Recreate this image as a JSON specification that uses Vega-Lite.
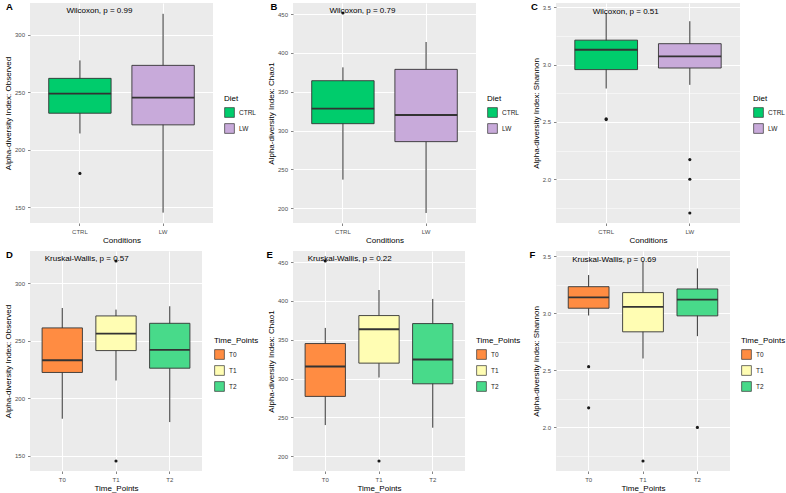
{
  "$schema": "https://vega.github.io/schema/vega-lite/v6.json",
  "padding": {"left": 4, "top": 1, "right": 0, "bottom": 0},
  "background": "#FFFFFF",
  "bounds": "flush",
  "columns": 3,
  "spacing": {"row": 28, "column": 80},
  "resolve": {"scale": {"fill": "independent", "x": "independent", "y": "independent"}, "legend": {"fill": "independent"}},
  "datasets": {
    "boxes": [
      {"panel": "A", "grp": "CTRL", "lower": 214.2, "q1": 231.8, "median": 248.8, "q3": 262.1, "upper": 277.7},
      {"panel": "A", "grp": "LW", "lower": 145.4, "q1": 221.7, "median": 245.4, "q3": 273.4, "upper": 318.2},
      {"panel": "B", "grp": "CTRL", "lower": 236.9, "q1": 308.9, "median": 328.2, "q3": 364.2, "upper": 381.4},
      {"panel": "B", "grp": "LW", "lower": 194.0, "q1": 285.8, "median": 320.1, "q3": 378.8, "upper": 414.0},
      {"panel": "C", "grp": "CTRL", "lower": 2.791, "q1": 2.956, "median": 3.129, "q3": 3.213, "upper": 3.45},
      {"panel": "C", "grp": "LW", "lower": 2.823, "q1": 2.970, "median": 3.072, "q3": 3.182, "upper": 3.378},
      {"panel": "D", "grp": "T0", "lower": 182.1, "q1": 222.3, "median": 232.9, "q3": 261.0, "upper": 278.3},
      {"panel": "D", "grp": "T1", "lower": 215.3, "q1": 241.3, "median": 256.1, "q3": 271.4, "upper": 276.9},
      {"panel": "D", "grp": "T2", "lower": 179.2, "q1": 226.0, "median": 241.9, "q3": 265.0, "upper": 279.8},
      {"panel": "E", "grp": "T0", "lower": 240.2, "q1": 277.1, "median": 315.6, "q3": 345.1, "upper": 365.2},
      {"panel": "E", "grp": "T1", "lower": 301.4, "q1": 319.9, "median": 363.5, "q3": 381.1, "upper": 414.0},
      {"panel": "E", "grp": "T2", "lower": 236.8, "q1": 293.3, "median": 324.6, "q3": 370.8, "upper": 402.5},
      {"panel": "F", "grp": "T0", "lower": 2.982, "q1": 3.046, "median": 3.142, "q3": 3.235, "upper": 3.337},
      {"panel": "F", "grp": "T1", "lower": 2.605, "q1": 2.839, "median": 3.057, "q3": 3.183, "upper": 3.46},
      {"panel": "F", "grp": "T2", "lower": 2.801, "q1": 2.979, "median": 3.121, "q3": 3.215, "upper": 3.395}
    ],
    "outliers": [
      {"panel": "A", "grp": "CTRL", "value": 179.5},
      {"panel": "B", "grp": "CTRL", "value": 451.3},
      {"panel": "C", "grp": "CTRL", "value": 2.52},
      {"panel": "C", "grp": "CTRL", "value": 2.527},
      {"panel": "C", "grp": "LW", "value": 2.171},
      {"panel": "C", "grp": "LW", "value": 2.0},
      {"panel": "C", "grp": "LW", "value": 1.705},
      {"panel": "D", "grp": "T1", "value": 319.1},
      {"panel": "D", "grp": "T1", "value": 145.4},
      {"panel": "E", "grp": "T0", "value": 451.3},
      {"panel": "E", "grp": "T1", "value": 194.0},
      {"panel": "F", "grp": "T0", "value": 2.533},
      {"panel": "F", "grp": "T0", "value": 2.172},
      {"panel": "F", "grp": "T1", "value": 1.706},
      {"panel": "F", "grp": "T2", "value": 2.0}
    ],
    "labels": [
      {"panel": "A", "grp": "CTRL", "value": 320.9, "label": "Wilcoxon, p = 0.99"},
      {"panel": "B", "grp": "CTRL", "value": 453.4, "label": "Wilcoxon, p = 0.79"},
      {"panel": "C", "grp": "CTRL", "value": 3.462, "label": "Wilcoxon, p = 0.51"},
      {"panel": "D", "grp": "T0", "value": 320.5, "label": "Kruskal-Wallis, p = 0.57"},
      {"panel": "E", "grp": "T0", "value": 453.4, "label": "Kruskal-Wallis, p = 0.22"},
      {"panel": "F", "grp": "T0", "value": 3.471, "label": "Kruskal-Wallis, p = 0.69"}
    ]
  },
  "concat": [
    {
      "width": 183, "height": 220,
      "title": {"text": "A", "dx": -24},
      "encoding": {"x": {"field": "grp", "type": "nominal", "scale": {"type": "band", "domain": ["CTRL", "LW"], "paddingInner": 0.25, "paddingOuter": 0.225}, "axis": {"title": "Conditions", "labelAngle": 0, "bandPosition": 0.5, "grid": true, "gridWidth": 1}}},
      "layer": [
        {"data": {"name": "boxes"}, "transform": [{"filter": "datum.panel === 'A'"}], "mark": {"type": "rule", "color": "#333333", "strokeWidth": 1},
         "encoding": {"y": {"field": "lower", "type": "quantitative", "scale": {"domain": [136.4, 327.6], "nice": false, "zero": false},
           "axis": {"title": "Alpha-diversity Index: Observed", "labelOverlap": false, "values": [150, 175, 200, 225, 250, 275, 300, 325], "labelExpr": "datum.value % 50 === 0 ? datum.label : ''", "gridWidth": {"condition": {"test": "datum.value % 50 === 0", "value": 1}, "value": 0.5}, "tickOpacity": {"condition": {"test": "datum.value % 50 === 0", "value": 1}, "value": 0}}},
           "y2": {"field": "upper"}}},
        {"data": {"name": "boxes"}, "transform": [{"filter": "datum.panel === 'A'"}], "mark": {"type": "bar", "stroke": "#333333", "strokeWidth": 0.9},
         "encoding": {"y": {"field": "q1", "type": "quantitative"}, "y2": {"field": "q3"},
           "fill": {"field": "grp", "type": "nominal", "scale": {"domain": ["CTRL", "LW"], "range": ["#00CC6C", "#C8AADA"]}, "legend": {"title": "Diet", "legendX": 194, "legendY": 92}}}},
        {"data": {"name": "boxes"}, "transform": [{"filter": "datum.panel === 'A'"}], "mark": {"type": "tick", "size": 62.4, "thickness": 1.8, "color": "#333333", "opacity": 1},
         "encoding": {"y": {"field": "median", "type": "quantitative"}}},
        {"data": {"name": "outliers"}, "transform": [{"filter": "datum.panel === 'A'"}], "mark": {"type": "point", "filled": true, "size": 10, "color": "#1A1A1A", "opacity": 1},
         "encoding": {"y": {"field": "value", "type": "quantitative"}}},
        {"data": {"name": "labels"}, "transform": [{"filter": "datum.panel === 'A'"}], "mark": {"type": "text", "align": "left", "baseline": "middle", "dx": -13.5, "fontSize": 8, "color": "#000000"},
         "encoding": {"y": {"field": "value", "type": "quantitative"}, "text": {"field": "label"}}}
      ]
    },
    {
      "width": 183, "height": 220,
      "title": {"text": "B", "dx": -22.5},
      "encoding": {"x": {"field": "grp", "type": "nominal", "scale": {"type": "band", "domain": ["CTRL", "LW"], "paddingInner": 0.25, "paddingOuter": 0.225}, "axis": {"title": "Conditions", "labelAngle": 0, "bandPosition": 0.5, "grid": true, "gridWidth": 1}}},
      "layer": [
        {"data": {"name": "boxes"}, "transform": [{"filter": "datum.panel === 'B'"}], "mark": {"type": "rule", "color": "#333333", "strokeWidth": 1},
         "encoding": {"y": {"field": "lower", "type": "quantitative", "scale": {"domain": [181.1, 464.2], "nice": false, "zero": false},
           "axis": {"title": "Alpha-diversity Index: Chao1", "labelOverlap": false, "values": [200, 225, 250, 275, 300, 325, 350, 375, 400, 425, 450], "labelExpr": "datum.value % 50 === 0 ? datum.label : ''", "gridWidth": {"condition": {"test": "datum.value % 50 === 0", "value": 1}, "value": 0.5}, "tickOpacity": {"condition": {"test": "datum.value % 50 === 0", "value": 1}, "value": 0}}},
           "y2": {"field": "upper"}}},
        {"data": {"name": "boxes"}, "transform": [{"filter": "datum.panel === 'B'"}], "mark": {"type": "bar", "stroke": "#333333", "strokeWidth": 0.9},
         "encoding": {"y": {"field": "q1", "type": "quantitative"}, "y2": {"field": "q3"},
           "fill": {"field": "grp", "type": "nominal", "scale": {"domain": ["CTRL", "LW"], "range": ["#00CC6C", "#C8AADA"]}, "legend": {"title": "Diet", "legendX": 194, "legendY": 92}}}},
        {"data": {"name": "boxes"}, "transform": [{"filter": "datum.panel === 'B'"}], "mark": {"type": "tick", "size": 62.4, "thickness": 1.8, "color": "#333333", "opacity": 1},
         "encoding": {"y": {"field": "median", "type": "quantitative"}}},
        {"data": {"name": "outliers"}, "transform": [{"filter": "datum.panel === 'B'"}], "mark": {"type": "point", "filled": true, "size": 10, "color": "#1A1A1A", "opacity": 1},
         "encoding": {"y": {"field": "value", "type": "quantitative"}}},
        {"data": {"name": "labels"}, "transform": [{"filter": "datum.panel === 'B'"}], "mark": {"type": "text", "align": "left", "baseline": "middle", "dx": -13.5, "fontSize": 8, "color": "#000000"},
         "encoding": {"y": {"field": "value", "type": "quantitative"}, "text": {"field": "label"}}}
      ]
    },
    {
      "width": 184, "height": 220,
      "title": {"text": "C", "dx": -25},
      "resolve": {"axis": {"y": "independent"}},
      "encoding": {"x": {"field": "grp", "type": "nominal", "scale": {"type": "band", "domain": ["CTRL", "LW"], "paddingInner": 0.25, "paddingOuter": 0.225}, "axis": {"title": "Conditions", "labelAngle": 0, "bandPosition": 0.5, "grid": true, "gridWidth": 1}}},
      "layer": [
        {"data": {"name": "boxes"}, "transform": [{"filter": "datum.panel === 'C'"}], "mark": {"type": "rule", "color": "#333333", "strokeWidth": 1},
         "encoding": {"y": {"field": "lower", "type": "quantitative", "scale": {"domain": [1.618, 3.537], "nice": false, "zero": false},
           "axis": {"title": "Alpha-diversity Index: Shannon", "orient": "left", "labelOverlap": false, "values": [2, 2.5, 3, 3.5], "format": ".1f", "gridWidth": 1}},
           "y2": {"field": "upper"}}},
        {"data": {"name": "boxes"}, "transform": [{"filter": "datum.panel === 'C'"}], "mark": {"type": "bar", "stroke": "#333333", "strokeWidth": 0.9},
         "encoding": {"y": {"field": "q1", "type": "quantitative", "axis": null}, "y2": {"field": "q3"},
           "fill": {"field": "grp", "type": "nominal", "scale": {"domain": ["CTRL", "LW"], "range": ["#00CC6C", "#C8AADA"]}, "legend": {"title": "Diet", "legendX": 197, "legendY": 92}}}},
        {"data": {"name": "boxes"}, "transform": [{"filter": "datum.panel === 'C'"}], "mark": {"type": "tick", "size": 62.7, "thickness": 1.8, "color": "#333333", "opacity": 1},
         "encoding": {"y": {"field": "median", "type": "quantitative", "axis": null}}},
        {"data": {"name": "outliers"}, "transform": [{"filter": "datum.panel === 'C'"}], "mark": {"type": "point", "filled": true, "size": 10, "color": "#1A1A1A", "opacity": 1},
         "encoding": {"y": {"field": "value", "type": "quantitative", "axis": null}}},
        {"data": {"name": "labels"}, "transform": [{"filter": "datum.panel === 'C'"}], "mark": {"type": "text", "align": "left", "baseline": "middle", "dx": -13.5, "fontSize": 8, "color": "#000000"},
         "encoding": {"y": {"field": "value", "type": "quantitative", "axis": {"orient": "right", "title": null, "values": [1.75, 2.25, 2.75, 3.25], "labels": false, "ticks": false, "domain": false, "grid": true, "gridWidth": 0.5}}, "text": {"field": "label"}}}
      ]
    },
    {
      "width": 172, "height": 220,
      "title": {"text": "D", "dx": -24},
      "encoding": {"x": {"field": "grp", "type": "nominal", "scale": {"type": "band", "domain": ["T0", "T1", "T2"], "paddingInner": 0.25, "paddingOuter": 0.225}, "axis": {"title": "Time_Points", "labelAngle": 0, "bandPosition": 0.5, "grid": true, "gridWidth": 1}}},
      "layer": [
        {"data": {"name": "boxes"}, "transform": [{"filter": "datum.panel === 'D'"}], "mark": {"type": "rule", "color": "#333333", "strokeWidth": 1},
         "encoding": {"y": {"field": "lower", "type": "quantitative", "scale": {"domain": [136.7, 327.8], "nice": false, "zero": false},
           "axis": {"title": "Alpha-diversity Index: Observed", "labelOverlap": false, "values": [150, 175, 200, 225, 250, 275, 300, 325], "labelExpr": "datum.value % 50 === 0 ? datum.label : ''", "gridWidth": {"condition": {"test": "datum.value % 50 === 0", "value": 1}, "value": 0.5}, "tickOpacity": {"condition": {"test": "datum.value % 50 === 0", "value": 1}, "value": 0}}},
           "y2": {"field": "upper"}}},
        {"data": {"name": "boxes"}, "transform": [{"filter": "datum.panel === 'D'"}], "mark": {"type": "bar", "stroke": "#333333", "strokeWidth": 0.9},
         "encoding": {"y": {"field": "q1", "type": "quantitative"}, "y2": {"field": "q3"},
           "fill": {"field": "grp", "type": "nominal", "scale": {"domain": ["T0", "T1", "T2"], "range": ["#FF8C42", "#FFFDB3", "#48DA8A"]}, "legend": {"title": "Time_Points", "legendX": 184, "legendY": 86}}}},
        {"data": {"name": "boxes"}, "transform": [{"filter": "datum.panel === 'D'"}], "mark": {"type": "tick", "size": 40.3, "thickness": 1.8, "color": "#333333", "opacity": 1},
         "encoding": {"y": {"field": "median", "type": "quantitative"}}},
        {"data": {"name": "outliers"}, "transform": [{"filter": "datum.panel === 'D'"}], "mark": {"type": "point", "filled": true, "size": 10, "color": "#1A1A1A", "opacity": 1},
         "encoding": {"y": {"field": "value", "type": "quantitative"}}},
        {"data": {"name": "labels"}, "transform": [{"filter": "datum.panel === 'D'"}], "mark": {"type": "text", "align": "left", "baseline": "middle", "dx": -17.5, "fontSize": 8, "color": "#000000"},
         "encoding": {"y": {"field": "value", "type": "quantitative"}, "text": {"field": "label"}}}
      ]
    },
    {
      "width": 172, "height": 220,
      "title": {"text": "E", "dx": -26.5},
      "encoding": {"x": {"field": "grp", "type": "nominal", "scale": {"type": "band", "domain": ["T0", "T1", "T2"], "paddingInner": 0.25, "paddingOuter": 0.225}, "axis": {"title": "Time_Points", "labelAngle": 0, "bandPosition": 0.5, "grid": true, "gridWidth": 1}}},
      "layer": [
        {"data": {"name": "boxes"}, "transform": [{"filter": "datum.panel === 'E'"}], "mark": {"type": "rule", "color": "#333333", "strokeWidth": 1},
         "encoding": {"y": {"field": "lower", "type": "quantitative", "scale": {"domain": [181.1, 464.2], "nice": false, "zero": false},
           "axis": {"title": "Alpha-diversity Index: Chao1", "labelOverlap": false, "values": [200, 225, 250, 275, 300, 325, 350, 375, 400, 425, 450], "labelExpr": "datum.value % 50 === 0 ? datum.label : ''", "gridWidth": {"condition": {"test": "datum.value % 50 === 0", "value": 1}, "value": 0.5}, "tickOpacity": {"condition": {"test": "datum.value % 50 === 0", "value": 1}, "value": 0}}},
           "y2": {"field": "upper"}}},
        {"data": {"name": "boxes"}, "transform": [{"filter": "datum.panel === 'E'"}], "mark": {"type": "bar", "stroke": "#333333", "strokeWidth": 0.9},
         "encoding": {"y": {"field": "q1", "type": "quantitative"}, "y2": {"field": "q3"},
           "fill": {"field": "grp", "type": "nominal", "scale": {"domain": ["T0", "T1", "T2"], "range": ["#FF8C42", "#FFFDB3", "#48DA8A"]}, "legend": {"title": "Time_Points", "legendX": 183, "legendY": 86}}}},
        {"data": {"name": "boxes"}, "transform": [{"filter": "datum.panel === 'E'"}], "mark": {"type": "tick", "size": 40.3, "thickness": 1.8, "color": "#333333", "opacity": 1},
         "encoding": {"y": {"field": "median", "type": "quantitative"}}},
        {"data": {"name": "outliers"}, "transform": [{"filter": "datum.panel === 'E'"}], "mark": {"type": "point", "filled": true, "size": 10, "color": "#1A1A1A", "opacity": 1},
         "encoding": {"y": {"field": "value", "type": "quantitative"}}},
        {"data": {"name": "labels"}, "transform": [{"filter": "datum.panel === 'E'"}], "mark": {"type": "text", "align": "left", "baseline": "middle", "dx": -17.5, "fontSize": 8, "color": "#000000"},
         "encoding": {"y": {"field": "value", "type": "quantitative"}, "text": {"field": "label"}}}
      ]
    },
    {
      "width": 174, "height": 220,
      "title": {"text": "F", "dx": -26.5},
      "resolve": {"axis": {"y": "independent"}},
      "encoding": {"x": {"field": "grp", "type": "nominal", "scale": {"type": "band", "domain": ["T0", "T1", "T2"], "paddingInner": 0.25, "paddingOuter": 0.225}, "axis": {"title": "Time_Points", "labelAngle": 0, "bandPosition": 0.5, "grid": true, "gridWidth": 1}}},
      "layer": [
        {"data": {"name": "boxes"}, "transform": [{"filter": "datum.panel === 'F'"}], "mark": {"type": "rule", "color": "#333333", "strokeWidth": 1},
         "encoding": {"y": {"field": "lower", "type": "quantitative", "scale": {"domain": [1.618, 3.548], "nice": false, "zero": false},
           "axis": {"title": "Alpha-diversity Index: Shannon", "orient": "left", "labelOverlap": false, "values": [2, 2.5, 3, 3.5], "format": ".1f", "gridWidth": 1}},
           "y2": {"field": "upper"}}},
        {"data": {"name": "boxes"}, "transform": [{"filter": "datum.panel === 'F'"}], "mark": {"type": "bar", "stroke": "#333333", "strokeWidth": 0.9},
         "encoding": {"y": {"field": "q1", "type": "quantitative", "axis": null}, "y2": {"field": "q3"},
           "fill": {"field": "grp", "type": "nominal", "scale": {"domain": ["T0", "T1", "T2"], "range": ["#FF8C42", "#FFFDB3", "#48DA8A"]}, "legend": {"title": "Time_Points", "legendX": 185, "legendY": 86}}}},
        {"data": {"name": "boxes"}, "transform": [{"filter": "datum.panel === 'F'"}], "mark": {"type": "tick", "size": 40.8, "thickness": 1.8, "color": "#333333", "opacity": 1},
         "encoding": {"y": {"field": "median", "type": "quantitative", "axis": null}}},
        {"data": {"name": "outliers"}, "transform": [{"filter": "datum.panel === 'F'"}], "mark": {"type": "point", "filled": true, "size": 10, "color": "#1A1A1A", "opacity": 1},
         "encoding": {"y": {"field": "value", "type": "quantitative", "axis": null}}},
        {"data": {"name": "labels"}, "transform": [{"filter": "datum.panel === 'F'"}], "mark": {"type": "text", "align": "left", "baseline": "middle", "dx": -16.5, "fontSize": 8, "color": "#000000"},
         "encoding": {"y": {"field": "value", "type": "quantitative", "axis": {"orient": "right", "title": null, "values": [1.75, 2.25, 2.75, 3.25], "labels": false, "ticks": false, "domain": false, "grid": true, "gridWidth": 0.5}}, "text": {"field": "label"}}}
      ]
    }
  ],
  "config": {
    "font": "Liberation Sans",
    "view": {"fill": "#EBEBEB", "stroke": null},
    "axis": {"domain": false, "labelOverlap": false, "labelFontSize": 6, "labelColor": "#4D4D4D", "tickColor": "#333333", "tickSize": 2.5, "tickWidth": 0.6, "labelPadding": 3, "titleFontSize": 8, "titleFontWeight": "normal", "titleColor": "#000000", "titlePadding": 2, "gridColor": "#FFFFFF"},
    "legend": {"orient": "none", "titleFontSize": 8, "titleFontWeight": "normal", "titleColor": "#000000", "labelFontSize": 6.5, "labelColor": "#1A1A1A", "symbolType": "square", "symbolSize": 95, "symbolStrokeColor": "#333333", "symbolStrokeWidth": 0.7, "rowPadding": 3, "titlePadding": 4, "labelOffset": 4},
    "title": {"fontSize": 9.5, "fontWeight": "bold", "anchor": "start", "frame": "group", "offset": -8, "color": "#000000"}
  }
}
